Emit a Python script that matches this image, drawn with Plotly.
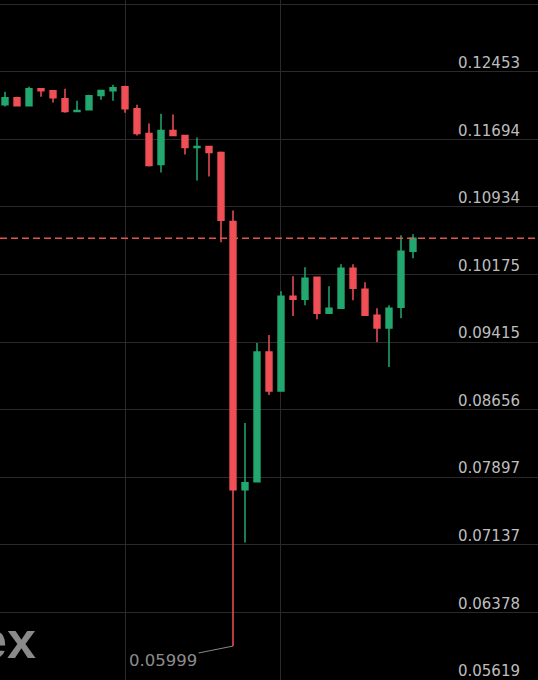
import plotly.graph_objects as go

# ---- data ----
idx = list(range(35))
opens = [0.12083, 0.12162, 0.12072, 0.12262, 0.12240, 0.12150, 0.12005, 0.12027, 0.12187, 0.12240,
         0.12285, 0.12038, 0.11758, 0.11410, 0.11792, 0.11736, 0.11601, 0.11612, 0.11545, 0.10771,
         0.07756, 0.07846, 0.09303, 0.08866, 0.09931, 0.09897, 0.10144, 0.09740, 0.09796, 0.10245,
         0.10009, 0.09718, 0.09572, 0.09807, 0.10435]
highs = [0.12229, 0.12173, 0.12285, 0.12262, 0.12240, 0.12262, 0.12128, 0.12195, 0.12251, 0.12307,
         0.12296, 0.12083, 0.11870, 0.11982, 0.11971, 0.11736, 0.11713, 0.11612, 0.11556, 0.10895,
         0.08507, 0.09404, 0.09494, 0.09987, 0.10155, 0.10256, 0.10144, 0.10043, 0.10290, 0.10290,
         0.10088, 0.09796, 0.09830, 0.10615, 0.10626]
lows = [0.12061, 0.12061, 0.12061, 0.12173, 0.12106, 0.11993, 0.11999, 0.12027, 0.12139, 0.12128,
        0.11993, 0.11736, 0.11388, 0.11321, 0.11730, 0.11523, 0.11231, 0.11276, 0.10536, 0.05999,
        0.07162, 0.07840, 0.08821, 0.08866, 0.09707, 0.09830, 0.09673, 0.09740, 0.09796, 0.09886,
        0.09718, 0.09415, 0.09135, 0.09684, 0.10357]
closes = [0.12162, 0.12072, 0.12262, 0.12240, 0.12162, 0.12005, 0.12016, 0.12184, 0.12243, 0.12274,
          0.12038, 0.11758, 0.11399, 0.11792, 0.11736, 0.11601, 0.11612, 0.11545, 0.10783, 0.07756,
          0.07834, 0.09303, 0.08866, 0.09931, 0.09897, 0.10133, 0.09740, 0.09796, 0.10245, 0.10020,
          0.09718, 0.09572, 0.09796, 0.10435, 0.10581]

price_ticks = [0.05619, 0.06378, 0.07137, 0.07897, 0.08656, 0.09415, 0.10175,
               0.10934, 0.11694, 0.12453, 0.13212]
time_grid = [10, 22.92]
last_price = 0.10581
low_price = 0.05999
low_index = 19

GREEN = "#22a86f"
RED = "#ef4f55"

y_range = [0.05618, 0.13259]
label_shift = 0.00101  # about 9px, labels sit above their grid lines

fig = go.Figure()
fig.add_trace(go.Candlestick(
    x=idx, open=opens, high=highs, low=lows, close=closes,
    increasing=dict(line=dict(color=GREEN, width=1.5), fillcolor=GREEN),
    decreasing=dict(line=dict(color=RED, width=1.5), fillcolor=RED),
    showlegend=False, hoverinfo="skip",
))
fig.add_trace(go.Scatter(x=[0], y=[0.1], yaxis="y2", mode="markers",
                         marker=dict(opacity=0), showlegend=False, hoverinfo="skip"))

fig.add_shape(type="line", xref="paper", x0=0, x1=1, yref="y", y0=last_price, y1=last_price,
              line=dict(color="#e0564f", width=1.5, dash="7px,4px"))

fig.add_annotation(x=low_index, y=low_price, xref="x", yref="y",
                   text=f"{low_price:.5f}", showarrow=True, arrowhead=0, arrowwidth=1,
                   arrowcolor="#8a8a8a", ax=-70, ay=14, standoff=0,
                   font=dict(family="DejaVu Sans", size=16.5, color="#8c8c8c"))

fig.add_annotation(xref="paper", yref="paper", x=38 / 538, y=1 - 640 / 680,
                   xanchor="right", yanchor="middle", text="<b>ex</b>", showarrow=False,
                   font=dict(family="Liberation Sans", size=52, color="#8a8a8a"))

fig.update_layout(
    width=538, height=680,
    margin=dict(l=0, r=0, t=0, b=0),
    paper_bgcolor="#000000", plot_bgcolor="#000000",
    xaxis=dict(range=[-5 / 12, -5 / 12 + 538 / 12], rangeslider=dict(visible=False),
               showticklabels=False, tickvals=time_grid, showgrid=True,
               gridcolor="#2a2a2a", gridwidth=1, zeroline=False, showline=False, ticks=""),
    yaxis=dict(range=y_range, tickvals=price_ticks, showticklabels=False, showgrid=True,
               gridcolor="#2a2a2a", gridwidth=1, zeroline=False, showline=False, side="right"),
    yaxis2=dict(range=[y_range[0] - label_shift, y_range[1] - label_shift], overlaying="y",
                side="left", anchor="free", position=1.0,
                tickvals=price_ticks, ticktext=[f"{v:.5f}" for v in price_ticks],
                ticklabelposition="outside", ticklabeloverflow="allow",
                ticks="outside", ticklen=15,
                tickcolor="rgba(0,0,0,0)", showgrid=False, zeroline=False, showline=False,
                tickfont=dict(family="DejaVu Sans", size=15, color="#bdbdbd")),
)

fig.write_html("out.html", config={"displayModeBar": False},
               post_script="document.body.style.margin='0';document.body.style.overflow='hidden';"
                           "document.body.style.background='#000';")
